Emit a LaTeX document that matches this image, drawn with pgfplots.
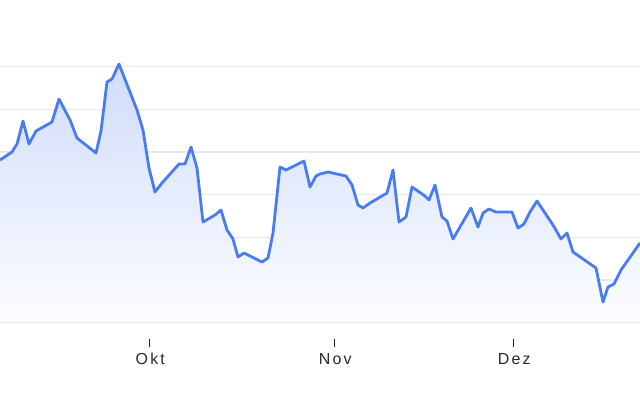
\documentclass[border=0pt]{standalone}
\usepackage{pgfplots}
\pgfplotsset{compat=1.18}
\usepackage{pgfplotstable}
\usepackage{fontspec}
\setmainfont{Liberation Sans}
\newfontfamily\labfont[LetterSpace=14]{Liberation Sans}
\definecolor{linec}{RGB}{72,124,240}
\definecolor{gridc}{RGB}{232,232,234}
\definecolor{filltop}{RGB}{208,220,250}
\definecolor{fillbot}{RGB}{252,253,255}
\definecolor{labc}{RGB}{40,40,40}
\pgfplotstableread{
x y
0 160
12 152
17 144
23 121
29 144
36 131
52 122
59 99
70 120
77 138
96 153
101 131
107 82
112 79
119 64
137 110
143 130
149 168
155 192
162 183
179 164
185 164
191 147
197 168
203 222
215 215
221 210
227 230
233 239
238 257
244 253
262 262
268 258
273 233
280 167
286 170
304 161
310 187
316 176
320 174
328 172
346 176
352 185
358 205
363 208
370 203
387 193
393 170
399 222
406 217
412 187
425 196
429 200
435 185
442 217
447 221
453 239
471 208
478 227
483 213
489 209
496 212
512 212
518 228
524 224
530 212
537 201
553 225
561 239
567 233
573 252
596 268
603 302
608 287
614 284
621 270
640 243
}\pricedata
\begin{document}
\begin{tikzpicture}
\begin{axis}[
  scale only axis, width=640bp, height=400bp,
  xmin=0, xmax=640, ymin=0, ymax=400, y dir=reverse,
  enlargelimits=false, axis lines=none,
  clip=true,
]
\path (axis cs:0,0) rectangle (axis cs:640,400);
\foreach \g in {66.7,109.3,152,194.7,237.3,280,322.7}{
  \edef\temp{\noexpand\draw[gridc, line width=1.3bp] (axis cs:0,\g) -- (axis cs:640,\g);}
  \temp
}
\addplot[draw=none, top color=filltop, bottom color=fillbot] table[x=x,y=y] {\pricedata} -- (axis cs:640,322.7) -- (axis cs:0,322.7) -- cycle;
\foreach \g in {322.7}{
  \edef\temp{\noexpand\draw[gridc, line width=1.3bp] (axis cs:0,\g) -- (axis cs:640,\g);}
  \temp
}
\addplot[linec, line width=2.8bp, line join=round, no marks] table[x=x,y=y] {\pricedata};
\foreach \t/\l in {149.3/Okt,334.3/Nov,513.3/Dez}{
  \edef\temp{\noexpand\draw[labc, line width=1bp] (axis cs:\t,339) -- (axis cs:\t,346.5);
    \noexpand\node[labc, inner sep=0pt, font=\noexpand\labfont\noexpand\fontsize{16}{18}\noexpand\selectfont, anchor=center] at (axis cs:\t+1,359) {\l};}
  \temp
}
\end{axis}
\end{tikzpicture}
\end{document}
